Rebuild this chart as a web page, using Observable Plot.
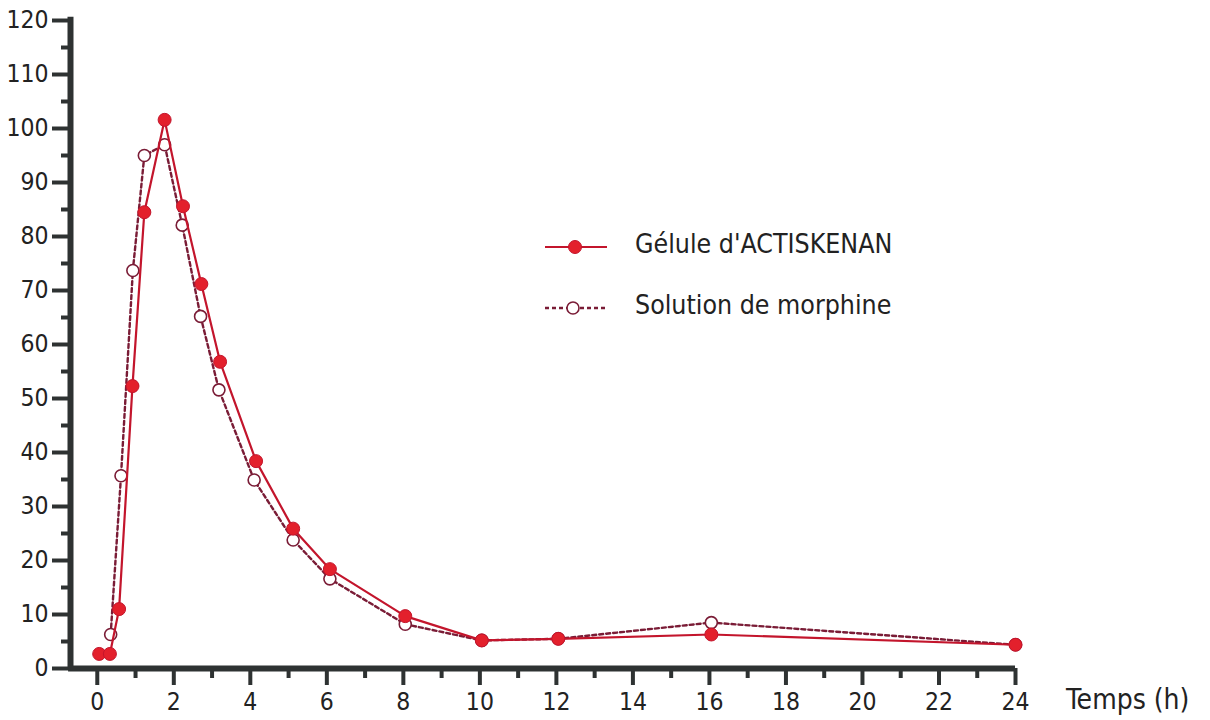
<!DOCTYPE html>
<html><head><meta charset="utf-8">
<script src="https://cdn.jsdelivr.net/npm/d3@7"></script>
<script src="https://cdn.jsdelivr.net/npm/@observablehq/plot@0.6"></script>
<style>
body{margin:0;background:#fff;}
#wrap{position:relative;width:1210px;height:720px;font-family:"DejaVu Sans Condensed","Liberation Sans Narrow","Roboto",sans-serif;color:#222}
#xlab{position:absolute;left:1066px;top:683px;font-size:28px;line-height:34px;white-space:nowrap;}
#legend{position:absolute;left:540px;top:225px;}
.lrow{position:relative;height:61px;width:500px;}
.lrow svg{position:absolute;left:0;top:8px}
.lrow span{position:absolute;left:95px;top:3px;font-size:26.5px;line-height:32px;white-space:nowrap;}
</style></head><body><div id="wrap"></div>
<script>
const seriesNames = ["Gélule d'ACTISKENAN", "Solution de morphine"];
const xLabel = "Temps (h)";
const capsuleTimes  = [0.05, 0.33, 0.57, 0.92, 1.23, 1.76, 2.24, 2.72, 3.21, 4.15, 5.12, 6.08, 8.05, 10.05, 12.05, 16.05, 24];
const capsuleValues = [2.7, 2.7, 11.0, 52.3, 84.5, 101.6, 85.6, 71.2, 56.8, 38.4, 25.9, 18.4, 9.7, 5.2, 5.5, 6.3, 4.4];
const solutionTimes  = [0.35, 0.62, 0.93, 1.23, 1.76, 2.22, 2.70, 3.18, 4.10, 5.12, 6.08, 8.05, 10.05, 12.05, 16.05, 24];
const solutionValues = [6.3, 35.7, 73.7, 95.0, 97.0, 82.1, 65.2, 51.6, 34.9, 23.8, 16.6, 8.2, 5.2, 5.5, 8.5, 4.4];
const xMajorTicks = d3.range(0, 25, 2);
const xMinorTicks = d3.range(1, 24, 2);
const yMajorTicks = d3.range(0, 121, 10);
const yMinorTicks = d3.range(5, 120, 10);
const xMin = -0.7, xMax = 24, yMax = 120;

const capsule = capsuleTimes.map((t, i) => ({t, v: capsuleValues[i]}));
const solution = solutionTimes.map((t, i) => ({t, v: solutionValues[i]}));

const RED = "#e3202c", LINE = "#c3152c", DASH = "#7a1c36", AX = "#2e3232";
const font = "'DejaVu Sans Condensed','Liberation Sans Narrow',Roboto,sans-serif";

const chart = Plot.plot({
  width: 1210, height: 720,
  marginLeft: 70, marginRight: 195, marginTop: 20, marginBottom: 52,
  style: {fontFamily: font, background: "transparent", color: "#222"},
  x: {domain: [xMin, xMax], label: null},
  y: {domain: [0, yMax], label: null},
  marks: [
    Plot.axisY({ticks: yMinorTicks, tickSize: 9, strokeWidth: 4, stroke: AX, tickFormat: () => "", label: null}),
    Plot.axisY({ticks: yMajorTicks, tickSize: 18, tickPadding: 4, strokeWidth: 4, stroke: AX, fill: "#222", fontSize: 24.5, label: null}),
    Plot.axisX({ticks: xMinorTicks, tickSize: 10, strokeWidth: 4, stroke: AX, tickFormat: () => "", label: null}),
    Plot.axisX({ticks: xMajorTicks, tickSize: 17, tickPadding: 7, strokeWidth: 4, stroke: AX, fill: "#222", fontSize: 24.5, label: null}),
    Plot.ruleX([xMin], {stroke: AX, strokeWidth: 6, y1: 0, y2: yMax + 0.6}),
    Plot.ruleY([0], {stroke: AX, strokeWidth: 6, x1: xMin - 0.05, x2: xMax}),
    Plot.line(solution, {x: "t", y: "v", stroke: DASH, strokeWidth: 2.4, strokeDasharray: "4,3"}),
    Plot.dot(solution, {x: "t", y: "v", r: 6, fill: "#fff", stroke: DASH, strokeWidth: 1.6}),
    Plot.line(capsule, {x: "t", y: "v", stroke: LINE, strokeWidth: 2.2}),
    Plot.dot(capsule, {x: "t", y: "v", r: 6.5, fill: RED, stroke: LINE, strokeWidth: 1})
  ]
});
const wrap = document.getElementById("wrap");
wrap.appendChild(chart);

const xl = document.createElement("div");
xl.id = "xlab"; xl.textContent = xLabel; wrap.appendChild(xl);

const leg = document.createElement("div");
leg.id = "legend";
leg.innerHTML = `
<div class="lrow"><svg width="80" height="30"><line x1="5" x2="67" y1="14" y2="14" stroke="${LINE}" stroke-width="2.2"/><circle cx="35" cy="14" r="6.5" fill="${RED}" stroke="${LINE}"/></svg><span>${seriesNames[0]}</span></div>
<div class="lrow"><svg width="80" height="30"><line x1="5" x2="67" y1="14" y2="14" stroke="${DASH}" stroke-width="2.4" stroke-dasharray="4,3"/><circle cx="33" cy="14" r="6" fill="#fff" stroke="${DASH}" stroke-width="1.6"/></svg><span>${seriesNames[1]}</span></div>`;
wrap.appendChild(leg);
</script></body></html>
